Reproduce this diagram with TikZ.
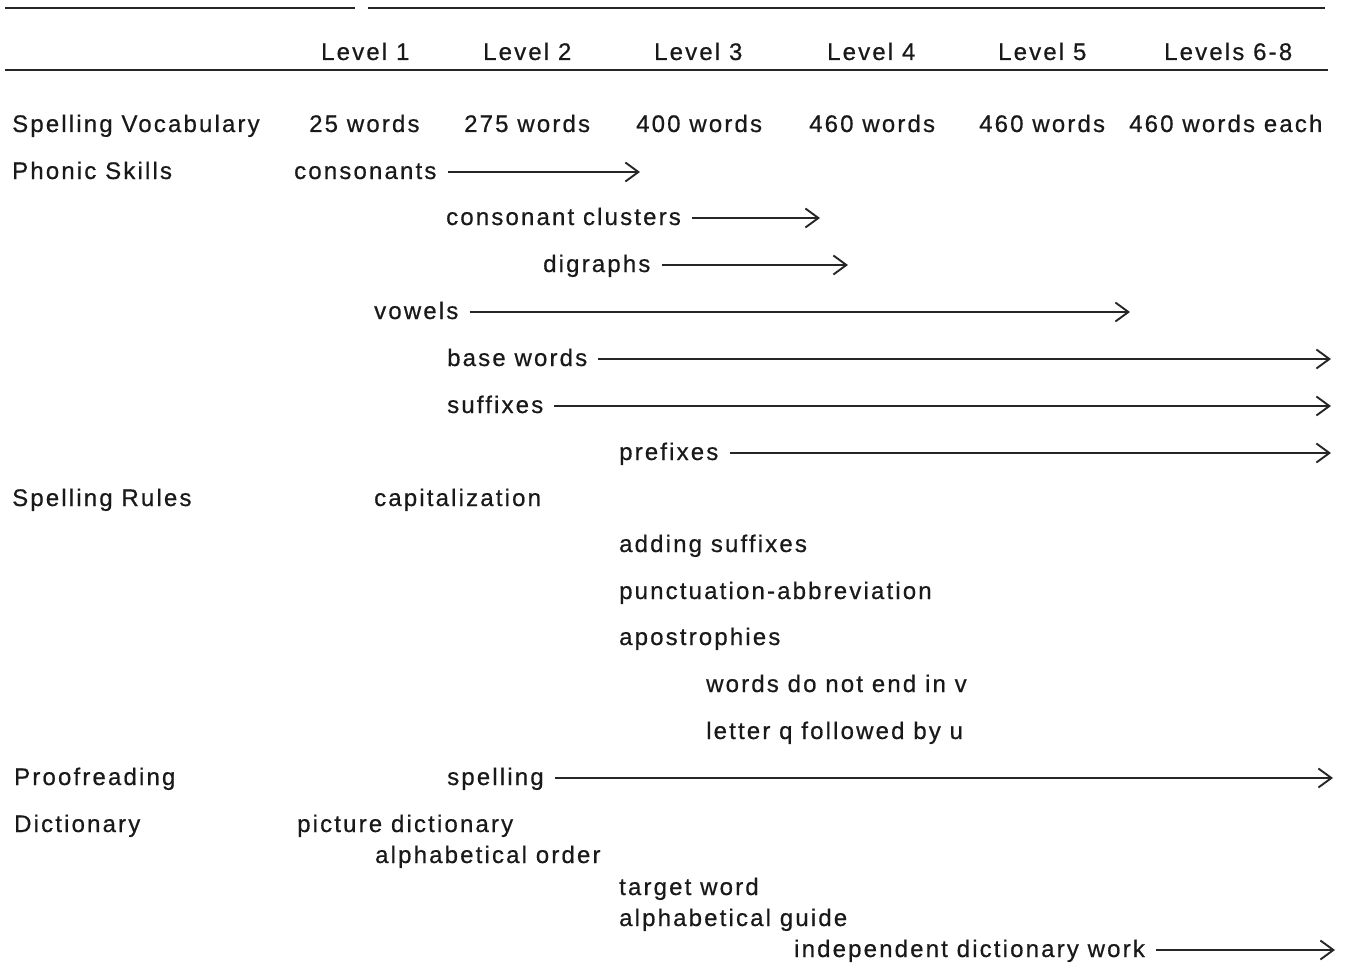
\documentclass[tikz,border=0pt]{standalone}
\usepackage{fontspec}
\setmainfont[LetterSpace=9,FakeBold=0.6]{Liberation Sans}
\usetikzlibrary{arrows.meta}
\tikzset{
  lbl/.style={inner sep=0pt, anchor=base west, font=\fontsize{24}{28}\selectfont, text=black!90},
  rule/.style={line width=2.2pt, black!85},
  conn/.style={line width=1.9pt, black!85, -{Straight Barb[length=13pt,width=19pt,line width=1.9pt]}},
}
\begin{document}
\begin{tikzpicture}[x=1pt,y=-1pt]
\useasboundingbox (0,0) rectangle (1347,963);
% rules
\draw[rule] (5,8) -- (355,8);
\draw[rule] (368,8) -- (1325,8);
\draw[rule] (5,70) -- (1328,70);
% header
\node[lbl] (l1) at (321,60) {Level 1};
\node[lbl] (l2) at (483,60) {Level 2};
\node[lbl] (l3) at (654,60) {Level 3};
\node[lbl] (l4) at (827,60) {Level 4};
\node[lbl] (l5) at (998,60) {Level 5};
\node[lbl] (l68) at (1164,60) {Levels 6-8};
% vocabulary
\node[lbl] (sv) at (12,132) {Spelling Vocabulary};
\node[lbl] (w1) at (309,132) {25 words};
\node[lbl] (w2) at (464,132) {275 words};
\node[lbl] (w3) at (636,132) {400 words};
\node[lbl] (w4) at (809,132) {460 words};
\node[lbl] (w5) at (979,132) {460 words};
\node[lbl] (w6) at (1129,132) {460 words each};
% phonic skills
\node[lbl] (ps) at (12,179) {Phonic Skills};
\node[lbl] (cons) at (294,179) {consonants};
\coordinate (consE) at (640,172);
\node[lbl] (cc) at (446,225) {consonant clusters};
\coordinate (ccE) at (820,218);
\node[lbl] (dig) at (543,272) {digraphs};
\coordinate (digE) at (848,265);
\node[lbl] (vow) at (374,319) {vowels};
\coordinate (vowE) at (1130,312);
\node[lbl] (bw) at (447,366) {base words};
\coordinate (bwE) at (1331,359);
\node[lbl] (suf) at (447,413) {suffixes};
\coordinate (sufE) at (1331,406);
\node[lbl] (pre) at (619,460) {prefixes};
\coordinate (preE) at (1331,453);
% spelling rules
\node[lbl] (sr) at (12,506) {Spelling Rules};
\node[lbl] (cap) at (374,506) {capitalization};
\node[lbl] (as) at (619,552) {adding suffixes};
\node[lbl] (pa) at (619,599) {punctuation-abbreviation};
\node[lbl] (ap) at (619,645) {apostrophies};
\node[lbl] (wv) at (706,692) {words do not end in v};
\node[lbl] (lq) at (706,739) {letter q followed by u};
% proofreading
\node[lbl] (pr) at (14,785) {Proofreading};
\node[lbl] (sp) at (447,785) {spelling};
\coordinate (spE) at (1333,778);
% dictionary
\node[lbl] (di) at (14,832) {Dictionary};
\node[lbl] (pd) at (297,832) {picture dictionary};
\node[lbl] (ao) at (375,863) {alphabetical order};
\node[lbl] (tw) at (619,895) {target word};
\node[lbl] (ag) at (619,926) {alphabetical guide};
\node[lbl] (idw) at (794,957) {independent dictionary work};
\coordinate (idwE) at (1335,950);
% connectors
\foreach \n in {cons,cc,dig,vow,bw,suf,pre,sp,idw}{
  \draw[conn] (\n.base east) ++(11pt,7pt) -- (\n E);
}
\end{tikzpicture}
\end{document}
